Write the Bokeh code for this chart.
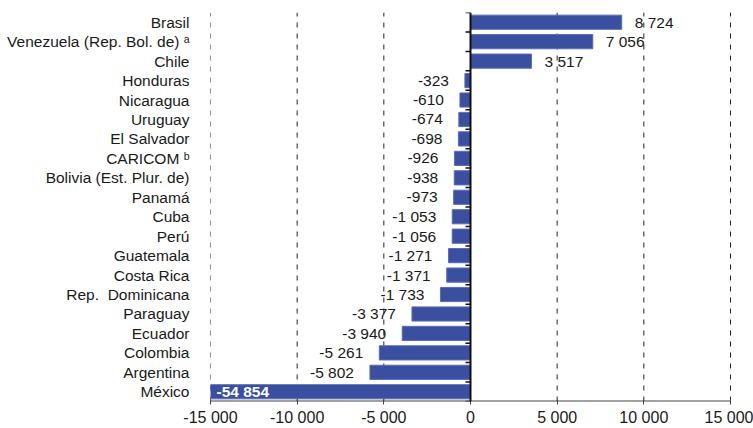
from bokeh.plotting import figure
from bokeh.models import ColumnDataSource, Range1d, FixedTicker, Span
from bokeh.embed import file_html
from bokeh.resources import INLINE
from bokeh.core.properties import value

# ---- data ----
countries = ["Brasil", "Venezuela (Rep. Bol. de) ᵃ", "Chile", "Honduras", "Nicaragua",
             "Uruguay", "El Salvador", "CARICOM ᵇ", "Bolivia (Est. Plur. de)", "Panamá",
             "Cuba", "Perú", "Guatemala", "Costa Rica", "Rep.\u00a0 Dominicana", "Paraguay",
             "Ecuador", "Colombia", "Argentina", "México"]
values = [8724, 7056, 3517, -323, -610, -674, -698, -926, -938, -973,
          -1053, -1056, -1271, -1371, -1733, -3377, -3940, -5261, -5802, -54854]
x_ticks = [-15000, -10000, -5000, 0, 5000, 10000, 15000]
x_tick_labels = ["-15 000", "-10 000", "-5 000", "0", "5 000", "10 000", "15 000"]

XMIN, XMAX = -15000, 15000
FONT = "Liberation Sans"
TXT = "#1a1a1a"
BAR = "#3a4f9f"
GRID = "#222222"

n = len(countries)
ys = [n - 1 - i for i in range(n)]

def fmt(v):
    return f"{v:,}".replace(",", " ")

W, H = 753, 428
L, R, T, B = 210, 15, 12, 24
EXTRA = 8  # pixels of frame beyond the last tick
frame_w = W - L - R
px = (XMAX - XMIN) / (frame_w - EXTRA)  # data units per pixel

p = figure(width=W, height=H, output_backend="svg", toolbar_location=None,
           x_range=Range1d(XMIN, XMAX + EXTRA * px), y_range=Range1d(-0.5, n - 0.5),
           min_border_left=L, min_border_right=R, min_border_top=T, min_border_bottom=B)
p.outline_line_color = None
p.background_fill_color = "white"
p.border_fill_color = "white"
p.ygrid.visible = False
p.xgrid.visible = False

# dashed vertical grid lines at every non-zero tick
grid_x = [t for t in x_ticks if t != 0]
p.segment(x0=grid_x, x1=grid_x, y0=[-0.5] * len(grid_x), y1=[n - 0.5] * len(grid_x),
          line_color=GRID, line_dash="5 6", line_width=1)

# bars
src = ColumnDataSource(dict(y=ys, v=values, c=countries))
p.hbar(y="y", left=0, right="v", height=0.73, source=src,
       fill_color=BAR, line_color="#5a6cb3", line_width=1)

# vertical zero axis with category boundary ticks
p.add_layout(Span(location=0, dimension="height", line_color="#111111", line_width=2))
tick_len = 5 * px
bounds = [k - 0.5 for k in range(n + 1)]
p.segment(x0=[0] * len(bounds), x1=[-tick_len] * len(bounds), y0=bounds, y1=bounds,
          line_color="#111111", line_width=1.5)

# value labels
pos = [(y, v) for y, v in zip(ys, values) if v >= 0]
neg = [(y, v) for y, v in zip(ys, values) if XMIN <= v < 0]
clip = [(y, v) for y, v in zip(ys, values) if v < XMIN]

p.text(x=[v for _, v in pos], y=[y for y, _ in pos], text=[fmt(v) for _, v in pos],
       x_offset=13, text_align="left", text_baseline="middle",
       text_font=value(FONT), text_font_size="15.5px", text_color=TXT)
p.text(x=[v for _, v in neg], y=[y for y, _ in neg], text=[fmt(v) for _, v in neg],
       x_offset=-16, text_align="right", text_baseline="middle",
       text_font=value(FONT), text_font_size="15.5px", text_color=TXT)
p.text(x=[XMIN for _ in clip], y=[y for y, _ in clip], text=[fmt(v) for _, v in clip],
       x_offset=6, text_align="left", text_baseline="middle",
       text_font=value(FONT), text_font_size="15.5px", text_font_style="bold",
       text_color="white")

# x axis
xa = p.xaxis[0]
xa.ticker = FixedTicker(ticks=x_ticks)
xa.major_label_overrides = {t: s for t, s in zip(x_ticks, x_tick_labels)}
xa.axis_line_color = None
xa.major_tick_line_color = "#444444"
xa.major_tick_in = 2
xa.major_tick_out = 3
xa.minor_tick_line_color = None
xa.major_label_standoff = 4
xa.major_label_text_font = FONT
xa.major_label_text_font_size = "16px"
xa.major_label_text_color = TXT
# axis line drawn only over the tick span
p.segment(x0=[XMIN], x1=[XMAX], y0=[-0.5], y1=[-0.5], line_color="#444444", line_width=2)

# y axis (category labels)
ya = p.yaxis[0]
ya.ticker = FixedTicker(ticks=ys)
ya.major_label_overrides = {y: c for y, c in zip(ys, countries)}
ya.axis_line_color = None
ya.major_tick_line_color = None
ya.minor_tick_line_color = None
ya.major_label_standoff = 15
ya.major_label_text_font = FONT
ya.major_label_text_font_size = "15.5px"
ya.major_label_text_color = TXT

open("out.html", "w").write(file_html(p, INLINE))
